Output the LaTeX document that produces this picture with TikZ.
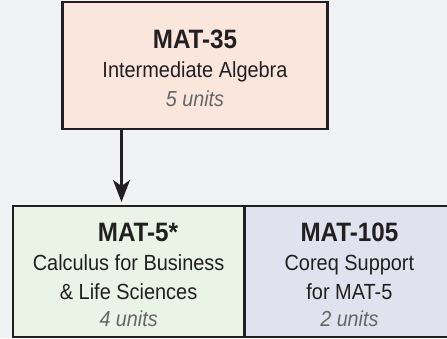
\documentclass[tikz,border=0pt]{standalone}
\usepackage{fontspec}
\setmainfont{Liberation Sans}
\newfontfamily\condsans[FakeStretch=0.91]{Liberation Sans}
\usetikzlibrary{arrows.meta}
\definecolor{bgc}{HTML}{F1F2F4}
\definecolor{edgec}{HTML}{231F20}
\definecolor{pinkc}{HTML}{FBE6DE}
\definecolor{greenc}{HTML}{EAF4E6}
\definecolor{lavc}{HTML}{E0E2EF}
\definecolor{unitc}{HTML}{666666}
\tikzset{
  course/.style={draw=edgec, line width=2.5pt, inner sep=0pt, outer sep=0pt},
  ttl/.style={anchor=base, inner sep=0pt, text=edgec, font=\condsans\fontsize{26.6}{29}\selectfont\bfseries},
  desc/.style={anchor=base, inner sep=0pt, text=edgec, font=\condsans\fontsize{21.9}{29}\selectfont},
  units/.style={anchor=base, inner sep=0pt, text=unitc, font=\condsans\fontsize{21.7}{29}\selectfont\itshape},
  arr/.style={draw=edgec, line width=2.6pt, -{Stealth[length=22pt, width=17pt, inset=6pt]}}
}
\begin{document}
\begin{tikzpicture}[x=1pt, y=-1pt]
\useasboundingbox (0,0) rectangle (447,338);
\clip (0,0) rectangle (447,338);
\fill[bgc] (0,0) rectangle (447,338);
% boxes
\node[course, fill=pinkc, minimum width=265pt, minimum height=127pt] (a) at (195,65.5) {};
\node[course, fill=greenc, minimum width=231.3pt, minimum height=131pt] (b) at (128.65,271.5) {};
\node[course, fill=lavc, minimum width=210.7pt, minimum height=131pt] (c) at (349.65,271.5) {};
\draw[course] (b.north east) -- (b.south east);
% texts top
\node[ttl] (a1) at (195,48.7) {MAT-35};
\node[desc] (a2) at (195,77.3) {Intermediate Algebra};
\node[units] (a3) at (195,106.7) {5 units};
% texts bottom left
\node[ttl] (b1) at (138,241) {MAT-5*};
\node[desc] (b2) at (128.6,270) {Calculus for Business};
\node[desc] (b3) at (128.6,299.3) {\& Life Sciences};
\node[units] (b4) at (128.6,326.7) {4 units};
% texts bottom right
\node[ttl] (c1) at (349.4,241) {MAT-105};
\node[desc] (c2) at (349.4,270) {Coreq Support};
\node[desc] (c3) at (349.4,299.3) {for MAT-5};
\node[units] (c4) at (349.4,326.7) {2 units};
% arrow
\coordinate (ax) at (121.5,0);
\draw[arr, shorten >=4pt] (ax |- a.south) -- (ax |- b.north);
\end{tikzpicture}
\end{document}
